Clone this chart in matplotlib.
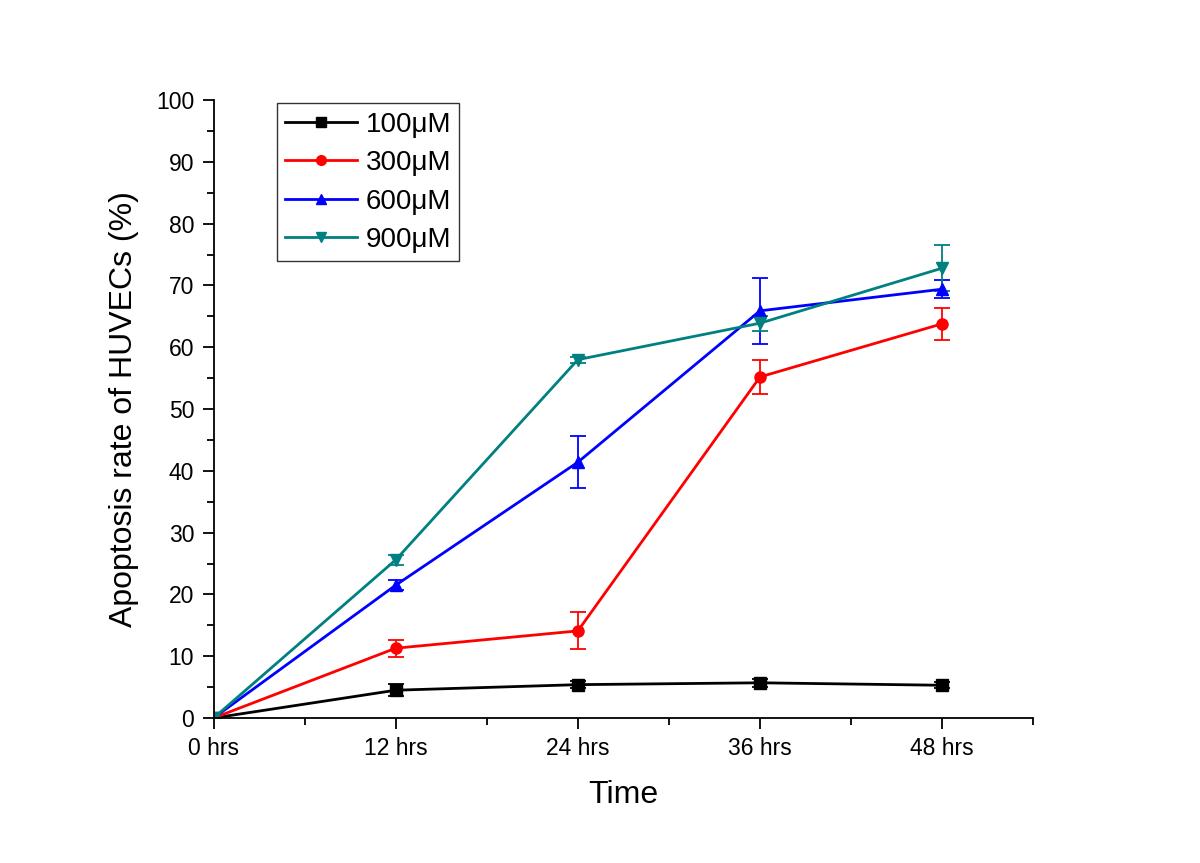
import matplotlib
matplotlib.use("Agg")
import matplotlib.pyplot as plt
from matplotlib.ticker import MultipleLocator
from matplotlib.lines import Line2D

plt.rcParams['font.family'] = ['Liberation Sans', 'DejaVu Sans']

# time points (hrs) and tick labels
hours = [0, 12, 24, 36, 48]
tick_labels = ['0 hrs', '12 hrs', '24 hrs', '36 hrs', '48 hrs']

# apoptosis rate (%) and error per dose
labels = ['100μM', '300μM', '600μM', '900μM']
y100 = [0, 4.5, 5.4, 5.7, 5.3]
e100 = [0, 1.0, 0.6, 0.6, 0.5]
y300 = [0, 11.3, 14.1, 55.2, 63.8]
e300 = [0, 1.4, 3.0, 2.7, 2.6]
y600 = [0, 21.5, 41.4, 65.9, 69.4]
e600 = [0, 0.8, 4.2, 5.3, 1.5]
y900 = [0, 25.6, 58.0, 63.9, 72.8]
e900 = [0, 0.8, 0.5, 1.2, 3.7]

colors = ['black', '#ff0000', '#0000ff', '#008080']
markers = ['s', 'o', '^', 'v']

fig = plt.figure(figsize=(12, 8.63), dpi=100)
ax = fig.add_axes([0.178, 0.168, 0.683, 0.716])

handles = []
for y, e, c, m, lab in zip([y100, y300, y600, y900], [e100, e300, e600, e900],
                           colors, markers, labels):
    ax.errorbar(hours, y, yerr=e, color=c, marker=m, markersize=8, lw=2,
                capsize=6, elinewidth=1.3, capthick=1.3)
    handles.append(Line2D([], [], color=c, marker=m, markersize=7, lw=2, label=lab))

ax.set_xlim(0, 54)
ax.set_ylim(0, 100)
ax.set_xticks(hours)
ax.set_xticklabels(tick_labels)
ax.xaxis.set_minor_locator(MultipleLocator(6))
ax.yaxis.set_major_locator(MultipleLocator(10))
ax.yaxis.set_minor_locator(MultipleLocator(5))
ax.tick_params(which='major', direction='out', length=8, width=1.3,
               labelsize=16.5, pad=6)
ax.tick_params(which='minor', direction='out', length=5, width=1.3)
ax.spines['top'].set_visible(False)
ax.spines['right'].set_visible(False)
ax.spines['left'].set_linewidth(1.3)
ax.spines['bottom'].set_linewidth(1.3)
for sp in ax.spines.values():
    sp.set_clip_on(False)

ax.set_xlabel('Time', fontsize=23, labelpad=14)
ax.set_ylabel('Apoptosis rate of HUVECs (%)', fontsize=23, labelpad=12)

leg = ax.legend(handles=handles, loc='upper left', bbox_to_anchor=(0.077, 0.995),
                fontsize=20, frameon=True, fancybox=False, edgecolor='black',
                borderpad=0.3, labelspacing=0.45, handlelength=2.6,
                handletextpad=0.3, borderaxespad=0)
leg.get_frame().set_linewidth(1.0)

fig.savefig('out.png', dpi=100)
